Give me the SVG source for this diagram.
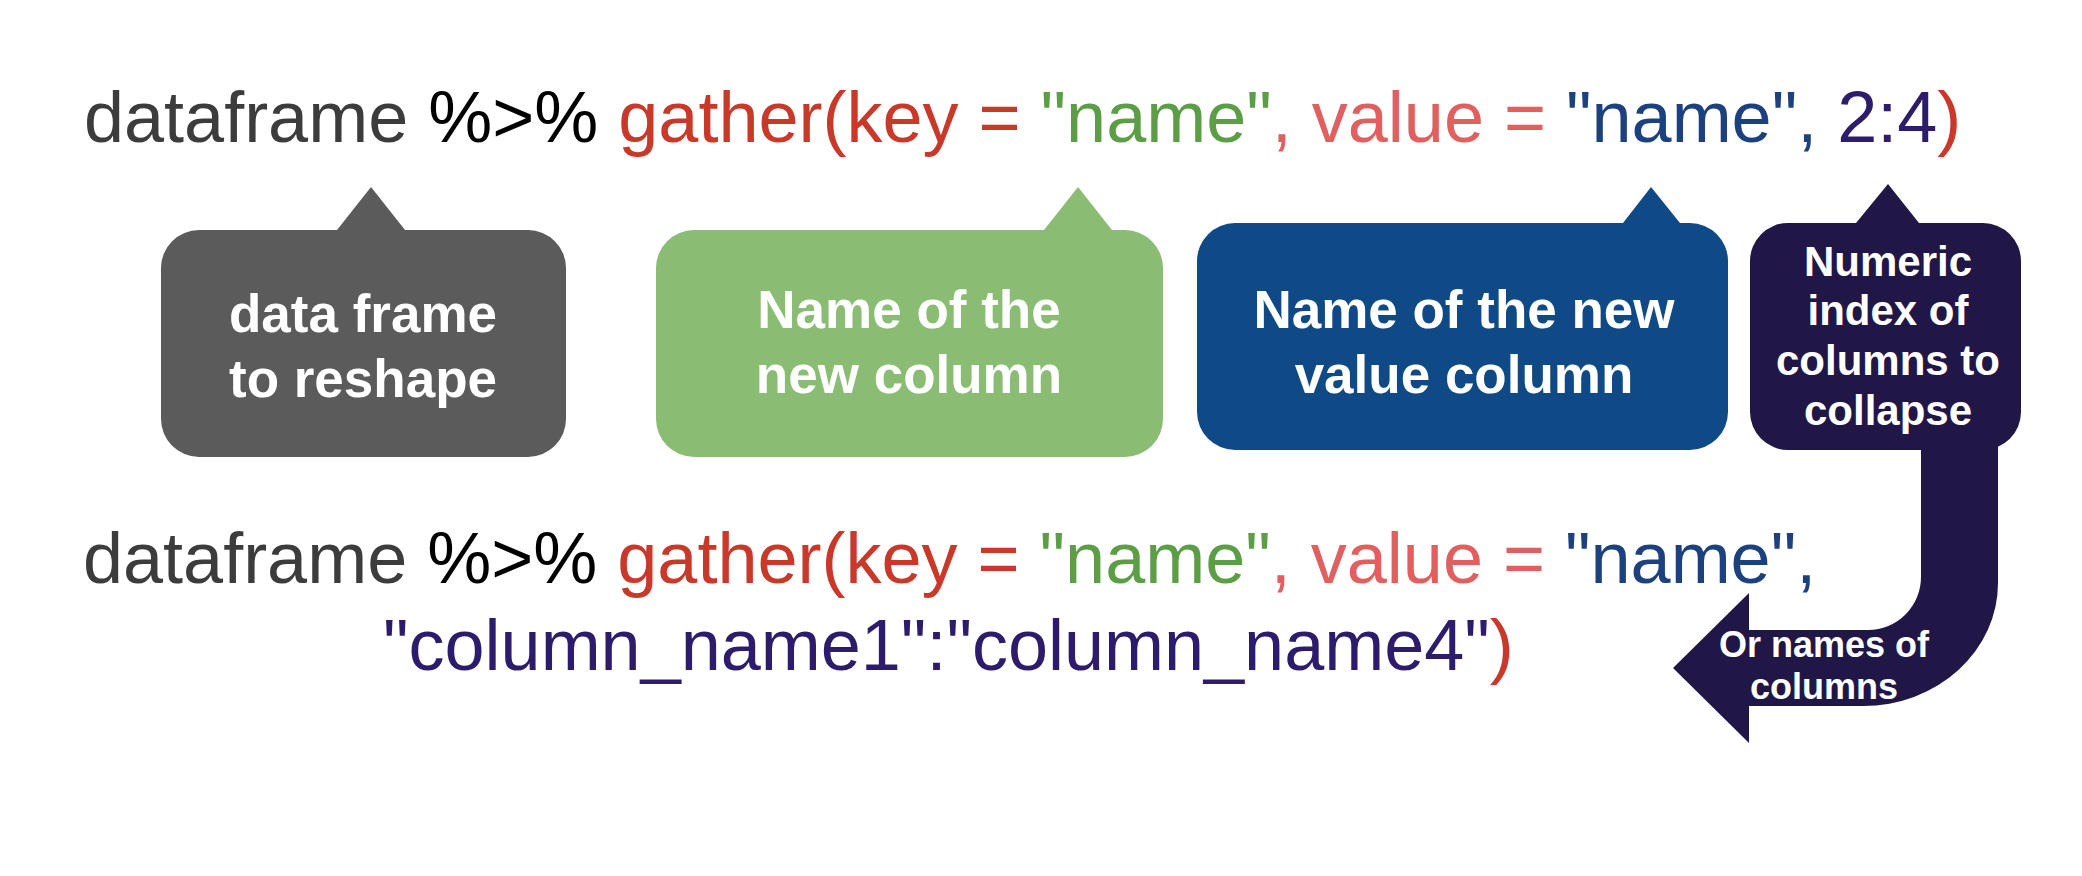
<svg xmlns="http://www.w3.org/2000/svg" width="2082" height="876" viewBox="0 0 2082 876">
<style>
.code{font-family:"Liberation Sans",Arial,Helvetica,sans-serif;font-size:72px}
.lbl{font-family:"Liberation Sans",Arial,Helvetica,sans-serif;font-weight:bold;fill:#ffffff;text-anchor:middle}
.df{fill:#3c3c3c}.op{fill:#000000}.fn{fill:#c8392a}.key{fill:#5c9e45}.val{fill:#e06060}.vn{fill:#1c417e}.idx{fill:#2d1b6b}
</style>
<rect x="0" y="0" width="2082" height="876" fill="#ffffff"/>
<g id="code-top">
<text class="code" x="84" y="142"><tspan class="df">dataframe</tspan> <tspan class="op">%&gt;%</tspan> <tspan class="fn">gather(key =</tspan> <tspan class="key">"name"</tspan><tspan class="val">, value =</tspan> <tspan class="vn">"name",</tspan> <tspan class="idx">2:4</tspan><tspan class="fn">)</tspan></text>
</g>
<g id="code-bottom">
<text class="code" x="83" y="583"><tspan class="df">dataframe</tspan> <tspan class="op">%&gt;%</tspan> <tspan class="fn">gather(key =</tspan> <tspan class="key">"name"</tspan><tspan class="val">, value =</tspan> <tspan class="vn">"name",</tspan></text>
<text class="code" x="383" y="670"><tspan class="idx">"column_name1":"column_name4"</tspan><tspan class="fn">)</tspan></text>
</g>
<g id="node-dataframe">
<path fill="#5b5b5b" d="M199 230 L337 230 L371 187 L405 230 L528 230 A38 38 0 0 1 566 268 L566 419 A38 38 0 0 1 528 457 L199 457 A38 38 0 0 1 161 419 L161 268 A38 38 0 0 1 199 230 Z"/>
<text class="lbl" font-size="53" x="363" y="332">data frame</text>
<text class="lbl" font-size="53" x="363" y="397">to reshape</text>
</g>
<g id="node-key">
<path fill="#8abd73" d="M694 230 L1044 230 L1078 187 L1112 230 L1125 230 A38 38 0 0 1 1163 268 L1163 419 A38 38 0 0 1 1125 457 L694 457 A38 38 0 0 1 656 419 L656 268 A38 38 0 0 1 694 230 Z"/>
<text class="lbl" font-size="53" x="909" y="328">Name of the</text>
<text class="lbl" font-size="53" x="909" y="393">new column</text>
</g>
<g id="node-value">
<path fill="#0f4a87" d="M1235 223 L1623 223 L1651 187 L1680 223 L1690 223 A38 38 0 0 1 1728 261 L1728 412 A38 38 0 0 1 1690 450 L1235 450 A38 38 0 0 1 1197 412 L1197 261 A38 38 0 0 1 1235 223 Z"/>
<text class="lbl" font-size="53" x="1464" y="328">Name of the new</text>
<text class="lbl" font-size="53" x="1464" y="393">value column</text>
</g>
<g id="node-index">
<path fill="#211747" d="M1788 223 L1856 223 L1888 184 L1919 223 L1983 223 A38 38 0 0 1 2021 261 L2021 412 A38 38 0 0 1 1983 450 L1788 450 A38 38 0 0 1 1750 412 L1750 261 A38 38 0 0 1 1788 223 Z"/>
<text class="lbl" font-size="42" x="1888" y="276">Numeric</text>
<text class="lbl" font-size="42" x="1888" y="325">index of</text>
<text class="lbl" font-size="42" x="1888" y="375">columns to</text>
<text class="lbl" font-size="42" x="1888" y="425">collapse</text>
</g>
<g id="connectors">
<path fill="#211747" d="M1921 440 L1921 577 A53 53 0 0 1 1868 630 L1749 630 L1749 593 L1673 668 L1749 743 L1749 706 L1863 706 A135 123 0 0 0 1998 583 L1998 440 Z"/>
<text class="lbl" font-size="36" x="1824" y="657">Or names of</text>
<text class="lbl" font-size="36" x="1824" y="699">columns</text>
</g>
</svg>
